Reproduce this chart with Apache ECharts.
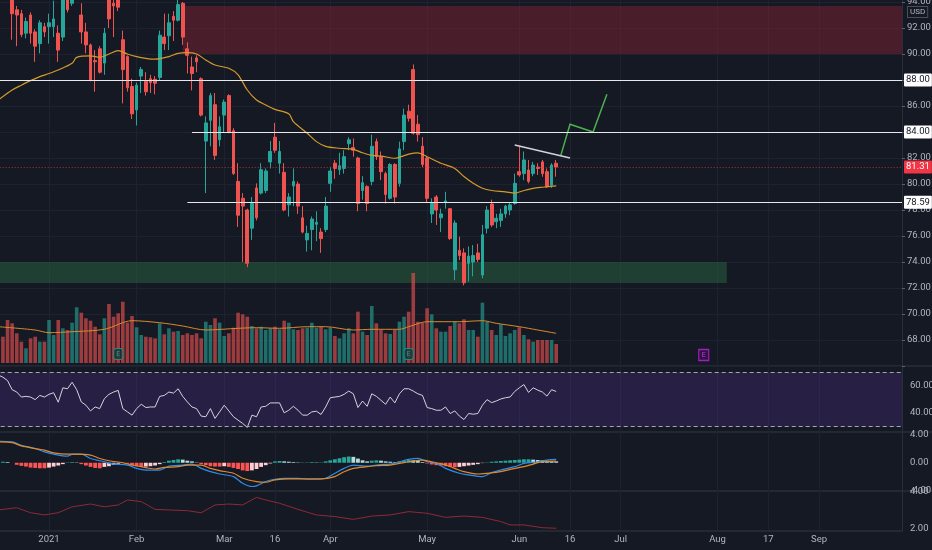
<!DOCTYPE html>
<html><head><meta charset="utf-8">
<script src="https://cdn.jsdelivr.net/npm/echarts/dist/echarts.min.js"></script>
<style>html,body{margin:0;padding:0;background:#151924;}#c{width:932px;height:550px;}</style>
</head><body><div id="c"></div>
<script>
// ---------- time axis ----------
const firstDate = '2020-12-15';
const barCount = 198;
const holidays = ['2020-12-25','2021-01-01','2021-01-18','2021-02-15','2021-04-02','2021-05-31','2021-07-05','2021-09-06'];
function buildTradingDays(start, count, skip){
  const out=[]; const d=new Date(start+'T00:00:00Z');
  while(out.length<count){
    const wd=d.getUTCDay(); const s=d.toISOString().slice(0,10);
    if(wd!==0&&wd!==6&&!skip.includes(s)) out.push(s);
    d.setUTCDate(d.getUTCDate()+1);
  }
  return out;
}
const categories = buildTradingDays(firstDate, barCount, holidays);
const tickDates = ['2020-12-15','2021-01-04','2021-02-01','2021-03-01','2021-03-16','2021-04-01','2021-05-03','2021-06-01','2021-06-16','2021-07-01','2021-08-02','2021-08-17','2021-09-01'];
const tickTexts = ['15','2021','Feb','Mar','16','Apr','May','Jun','16','Jul','Aug','17','Sep'];

// ---------- price (OHLC) ----------
const opens = [null,null,
96.8,96.0,94.6,93.4,93.1,91.6,93.0,91.7,90.8,92.1,
92.1,92.1,91.6,91.3,95.5,93.9,95.5,93.0,91.7,90.7,
89.5,90.4,89.3,94.5,93.9,94.2,91.1,89.8,87.5,85.7,
88.3,87.9,88.1,88.05,88.2,91.3,91.4,92.9,92.6,93.9,
90.4,89.0,89.7,88.1,83.3,84.9,86.1,83.4,85.3,86.8,
84.1,80.2,78.9,78.0,76.6,79.7,79.3,79.5,81.7,83.6,
81.6,80.9,78.4,79.85,80.0,77.4,75.7,76.5,76.9,76.3,
76.5,80.05,81.6,81.1,81.2,83.1,82.8,82.0,79.5,79.8,
80.2,83.26,82.1,80.8,78.9,81.5,80.05,83.26,85.6,88.8,
84.6,82.9,82.0,77.7,79.0,77.4,78.6,78.1,73.4,74.9,
74.7,73.9,74.0,74.7,73.0,76.6,78.46,77.1,77.2,77.7,
78.0,78.5,80.95,80.8,81.08,80.8,81.3,81.7,80.95,79.9,81.6];
const highs = [null,null,
97.0,96.3,95.0,93.7,93.4,92.8,93.2,91.9,92.6,92.4,
93.1,94.1,92.2,95.0,96.0,96.0,96.5,93.9,92.4,90.8,
90.3,90.6,92.0,95.0,94.5,94.5,91.8,89.9,88.1,87.8,
89.0,88.6,88.4,88.3,91.8,93.1,93.1,93.3,94.2,94.0,
90.9,89.8,89.9,88.2,85.2,87.0,87.0,85.2,86.5,86.9,
84.3,81.6,79.3,78.1,79.0,80.05,81.6,81.2,83.3,84.7,
83.3,81.6,79.3,81.2,80.2,78.3,76.8,77.5,77.9,76.6,
79.0,81.3,81.85,82.4,82.6,83.6,83.5,82.1,80.6,79.9,
83.8,83.5,82.5,80.95,81.6,81.6,83.26,85.8,86.1,89.2,
85.3,83.6,82.1,78.9,79.15,78.1,79.4,78.15,77.2,75.95,
75.05,75.2,75.3,75.4,76.85,78.3,78.8,77.7,78.1,78.4,
78.6,80.8,82.9,82.5,81.85,81.7,81.6,81.85,81.2,81.6,81.85];
const lows = [null,null,
95.6,94.3,91.1,90.6,91.3,91.2,90.8,89.4,90.05,91.3,
90.8,91.3,89.4,91.0,93.2,93.7,94.5,90.8,90.05,87.9,
87.1,88.5,88.4,92.0,91.3,93.3,86.2,87.1,85.0,84.5,
87.0,86.8,87.0,86.9,88.0,90.3,90.3,91.0,92.5,90.7,
88.5,87.2,88.6,85.2,79.3,82.9,81.85,82.9,84.0,83.9,
80.7,76.7,74.0,73.6,75.7,77.2,79.2,79.3,81.2,82.4,
80.8,77.9,77.5,78.3,77.7,76.2,74.8,74.9,75.6,74.7,
76.3,79.4,80.4,80.7,80.8,82.6,82.1,77.9,78.8,77.9,
79.9,81.85,80.3,78.5,78.8,78.5,79.8,82.6,84.8,83.8,
83.26,81.3,78.6,77.0,76.85,76.3,78.1,75.7,72.6,74.15,
72.2,72.5,72.9,74.0,72.75,76.2,76.7,76.6,76.7,77.4,
77.6,78.4,80.56,80.3,80.05,80.6,80.7,80.56,79.7,79.7,80.56];
const closes = [null,null,
96.0,94.6,93.1,93.0,91.5,92.5,91.6,90.6,92.4,91.7,
92.4,92.7,90.3,94.6,93.4,95.5,96.0,91.7,90.7,88.0,
89.4,88.6,91.6,92.7,93.7,93.6,88.8,87.4,85.4,87.6,
88.8,87.1,87.8,87.75,91.45,90.8,92.4,92.6,93.8,91.3,
89.9,88.5,89.4,85.3,84.7,86.8,82.2,84.4,86.3,84.0,
80.8,77.6,78.3,73.9,78.5,77.4,81.1,81.0,82.5,82.6,
82.5,78.0,79.0,80.2,78.3,76.3,76.2,77.3,77.05,75.8,
78.3,81.0,81.2,81.4,82.1,83.4,82.6,78.5,80.1,78.5,
82.9,82.1,80.95,79.2,81.5,79.0,82.7,85.3,85.05,83.9,
83.8,81.5,78.9,78.5,78.0,77.7,78.7,75.8,77.0,74.5,
72.4,74.46,74.5,74.2,76.1,78.0,76.85,77.36,77.7,78.3,
78.4,80.05,80.7,81.85,80.2,81.46,81.2,80.8,79.8,81.46,81.31];
// moving average: [barIndex, value]
const priceMA = [[1,86.46],[4,87.23],[6,87.6],[8,87.95],[10,88.26],[12,88.5],[14,88.77],[17,89.28],[18,89.74],[21,89.85],[23,89.74],[25,90.0],[27,90.26],[29,90.0],[31,89.8],[33,89.67],[35,89.6],[38,89.8],[40,90.05],[42,90.1],[44,90.0],[46,89.54],[48,89.15],[51,88.9],[53,88.4],[55,87.23],[57,86.46],[59,86.08],[61,85.74],[64,85.4],[65,84.8],[68,83.9],[70,83.26],[72,82.9],[75,82.75],[78,82.67],[80,82.4],[82,82.2],[84,82.15],[87,81.98],[90,82.3],[92,82.4],[94,82.1],[97,81.6],[100,81.2],[102,80.57],[104,80.05],[106,79.67],[108,79.5],[111,79.4],[113,79.3],[115,79.5],[117,79.67],[119,79.75],[122,79.85]];

// ---------- volume (millions) ----------
const volumes = [null,null,
2.63,4.3,3.97,2.97,2.13,1.47,2.47,2.63,2.13,2.13,
4.3,2.8,4.3,3.47,3.3,4.03,5.57,5.03,4.47,4.23,
3.63,2.87,4.47,5.9,4.63,4.97,6.13,4.03,4.7,3.57,
2.8,2.63,2.57,2.47,3.97,2.87,3.47,3.13,3.2,2.8,
2.97,2.8,2.97,2.47,4.13,3.8,4.47,4.03,2.7,2.97,
3.53,5.03,4.87,4.63,3.7,3.47,3.63,3.3,3.47,3.63,
3.37,4.23,4.03,3.37,3.3,3.47,3.53,4.03,3.53,3.63,
3.37,3.53,2.7,2.47,2.97,3.47,2.97,5.13,3.13,2.8,
5.7,3.97,3.3,2.97,2.9,3.3,4.13,4.63,5.13,9.0,
4.13,4.03,5.47,4.87,3.47,3.13,3.13,3.7,4.13,3.97,
4.37,3.3,3.3,2.63,6.03,4.13,3.3,2.8,3.87,2.7,
2.97,3.3,3.57,2.8,2.37,2.13,2.3,2.3,2.3,2.3,1.9];
const volumeMA = [[1,3.63],[9,3.3],[12,3.03],[17,3.13],[24,3.37],[30,4.23],[36,4.03],[41,3.7],[46,3.3],[53,3.47],[57,3.53],[62,3.47],[68,3.63],[72,3.63],[78,3.3],[82,3.37],[88,3.37],[90,3.63],[94,4.13],[101,4.13],[106,4.23],[109,3.97],[114,3.63],[118,3.3],[122,2.97]];
const earningsDates = ['2021-01-26','2021-04-27'];
const upcomingEarnings = ['2021-07-28'];

// ---------- RSI ----------
const rsi = [null,68,
66.4,63.9,57.2,55.5,51.8,52.3,51.8,49.9,53.0,51.8,
53.8,55.0,48.0,58.6,57.9,62.7,57.2,48.2,45.8,41.6,
44.5,43.3,50.6,53.8,55.5,56.7,43.3,40.9,38.5,43.3,
46.5,44.1,44.5,44.5,52.3,53.0,55.5,54.7,57.9,52.3,
48.2,44.5,43.3,37.8,37.3,43.3,36.1,40.9,45.8,41.6,
37.3,34.8,32.4,29.5,38.5,37.3,44.5,45.0,47.5,47.5,
47.5,40.2,42.1,45.0,42.1,38.5,38.5,40.9,41.4,39.0,
44.5,51.3,51.8,52.3,53.8,56.2,54.2,44.1,48.9,45.0,
54.2,52.3,49.4,46.5,51.8,47.5,54.2,57.9,57.9,56.2,
54.2,53.0,44.1,43.3,42.1,42.1,44.5,39.7,41.6,37.8,
35.3,39.7,39.2,39.7,45.8,49.9,47.7,48.9,50.4,51.3,
51.8,55.9,58.6,61.0,55.2,58.6,56.9,55.5,52.5,57.2,55.9];

// ---------- MACD ----------
const macdHist = [null,null,
0.15,0.1,0,-0.3,-0.45,-0.55,-0.7,-0.75,-0.8,-0.8,
-0.7,-0.55,-0.4,-0.2,0.05,0.1,0.05,-0.2,-0.4,-0.6,
-0.75,-0.8,-0.6,-0.5,-0.3,-0.15,0.05,-0.15,-0.4,-0.5,
-0.6,-0.55,-0.5,-0.4,-0.2,0.1,0.3,0.4,0.5,0.45,
0.3,0.2,0.05,-0.2,-0.35,-0.5,-0.55,-0.55,-0.5,-0.6,
-0.75,-0.9,-1.1,-1.2,-1.1,-0.9,-0.6,-0.35,-0.1,0.2,
0.25,0.2,0.15,0.1,0.05,0.05,0.05,0.1,0.05,0.05,
0.2,0.35,0.5,0.65,0.8,0.9,0.85,0.6,0.35,0.2,
0.3,0.35,0.3,0.2,0.15,0.1,0.2,0.3,0.4,0.35,
0.25,0.1,-0.1,-0.25,-0.35,-0.4,-0.5,-0.6,-0.65,-0.6,
-0.5,-0.4,-0.3,-0.2,-0.05,0.05,0.15,0.2,0.25,0.3,
0.35,0.4,0.45,0.5,0.5,0.45,0.4,0.35,0.3,0.25,0.2];
const macdLine = [[1,3.1],[4,3.0],[6,2.52],[9,2.05],[11,1.57],[13,1.24],[16,0.95],[17,1.2],[19,1.24],[21,0.62],[24,0.14],[26,-0.19],[29,-0.33],[31,-0.81],[33,-1.05],[36,-1.05],[38,-0.48],[41,-0.33],[43,-0.19],[45,-0.81],[47,-1.29],[49,-1.62],[52,-2.0],[54,-2.95],[56,-3.43],[57,-3.33],[59,-2.71],[61,-2.38],[63,-2.24],[66,-2.24],[68,-2.38],[70,-2.38],[72,-2.24],[74,-1.52],[76,-0.81],[78,-0.33],[81,-0.48],[83,-0.33],[86,-0.19],[88,0.14],[90,0.48],[92,0.62],[94,0.14],[96,-0.1],[98,-0.81],[101,-1.52],[103,-1.76],[106,-2.0],[108,-1.43],[110,-1.05],[113,-0.57],[115,-0.1],[118,0.14],[120,0.38],[122,0.48]];
const signalLine = [[1,3.0],[4,2.9],[6,2.43],[9,2.05],[11,1.81],[13,1.43],[16,1.24],[18,1.24],[21,1.1],[23,0.62],[25,0.29],[28,0],[30,-0.33],[33,-0.71],[35,-0.9],[37,-0.67],[40,-0.57],[42,-0.33],[45,-0.33],[47,-0.81],[49,-1.14],[52,-1.52],[54,-2.24],[57,-2.71],[59,-2.81],[61,-2.48],[64,-2.33],[66,-2.33],[69,-2.33],[71,-2.33],[74,-2.0],[76,-1.29],[78,-0.81],[81,-0.57],[83,-0.43],[86,-0.33],[88,-0.1],[90,0.14],[93,0.38],[95,0.14],[98,-0.33],[100,-0.81],[102,-1.29],[105,-1.62],[107,-1.52],[110,-1.29],[112,-0.95],[115,-0.57],[117,-0.19],[119,0.14],[122,0.24]];

// ---------- lower indicator (ATR-like) ----------
const atr = [[1,3.03],[5,3.15],[8,2.88],[11,2.76],[14,2.88],[17,3.2],[21,3.35],[24,3.2],[27,3.3],[29,3.57],[32,3.48],[35,3.06],[38,3.03],[42,2.99],[45,2.88],[48,3.3],[51,3.35],[54,3.3],[57,3.71],[59,3.57],[62,3.39],[66,3.06],[70,2.76],[74,2.67],[78,2.52],[82,2.7],[86,2.76],[90,2.94],[94,2.85],[98,2.63],[102,2.7],[106,2.63],[110,2.4],[112,2.22],[115,2.22],[119,2.07],[122,2.04]];

// ---------- drawings ----------
const resistanceHigh = 88.00;
const resistanceMid = 84.00, resistanceMidStart = 43;
const supportLevel = 78.59, supportStart = 42;
const lastPrice = 81.31;
const supplyZone = {start:41, low:90.0, high:93.69};
const demandZone = {start:0, end:159, low:72.38, high:74.0};
const trendLine = [[113,83.0],[125,82.0]];
const forecastPath = [[123,82.2],[125,84.6],[130,84.0],[133,86.9]];

// ---------- build ----------
const UP='#26a69a', DN='#ef5350', BG='#151924', TXT='#b2b5be', GRIDC='#1d2130', SEP='#2a2e39';
const FONT='Roboto, "Noto Sans", sans-serif';
const L=-6.3, R=30;
const candleData = opens.map((o,i)=> o==null?'-':[o,closes[i],lows[i],highs[i]]);
const volData = volumes.map((v,i)=> v==null?'-':{value:v,itemStyle:{color: closes[i]>=opens[i]?'rgba(38,166,154,0.6)':'rgba(239,83,80,0.62)'}});
const histData = macdHist.map((v,i)=>{
  if(v==null) return '-';
  const p = i>0?macdHist[i-1]:null;
  let c;
  if(v>=0) c = (p!=null && v<p) ? '#b2dfdb' : '#26a69a';
  else c = (p!=null && v>p) ? '#ffcdd2' : '#ff5252';
  return {value:v,itemStyle:{color:c}};
});
const E_LEVEL = 0.9;
function boxLabel(text,bg,fg){return {show:true,position:'end',formatter:text,backgroundColor:bg,color:fg,padding:[2,2,1,2],fontSize:9.5,fontFamily:FONT,distance:2,borderRadius:1};}
const hideX = (g)=>({type:'category',gridIndex:g,data:categories,boundaryGap:false,show:false});
const G = (o)=>Object.assign({left:L,right:R,containLabel:false,outerBoundsMode:'none'},o);

const option = {
  backgroundColor: BG,
  animation:false,
  grid:[
    G({top:2,height:364}),
    G({top:263,height:100}),
    G({top:358.7,height:81.6}),
    G({top:407.3,height:110.9}),
    G({top:455,height:111}),
    G({top:0,height:531})
  ],
  xAxis:[hideX(0),hideX(1),hideX(2),hideX(3),hideX(4),
    {type:'category',gridIndex:5,data:categories,boundaryGap:false,
     axisLine:{show:true,lineStyle:{color:SEP,width:1.5}},axisTick:{show:false},
     axisLabel:{color:TXT,fontSize:9.5,fontFamily:FONT,margin:4,
       interval:(idx,val)=>tickDates.includes(val),
       formatter:(val)=>{const k=tickDates.indexOf(val);return k<0?'':tickTexts[k];}},
     splitLine:{show:true,interval:(idx,val)=>tickDates.includes(val),lineStyle:{color:GRIDC,width:1}}}
  ],
  yAxis:[
    {type:'value',gridIndex:0,position:'right',min:66,max:94,interval:2,
     axisLine:{show:false},axisTick:{show:true,length:3,lineStyle:{color:'#5d606b'}},
     axisLabel:{color:TXT,fontSize:9.5,fontFamily:FONT,margin:5,formatter:v=>v===66?'':v.toFixed(2)},
     splitLine:{show:true,lineStyle:{color:GRIDC}}},
    {type:'value',gridIndex:1,min:0,max:10,show:false},
    {type:'value',gridIndex:2,position:'right',min:20,max:80,interval:20,
     axisLine:{show:false},axisTick:{show:false},
     axisLabel:{color:TXT,fontSize:9.5,fontFamily:FONT,margin:8,formatter:v=>(v===60||v===40)?v.toFixed(2):''},
     splitLine:{show:false}},
    {type:'value',gridIndex:3,position:'right',min:-8,max:8,interval:4,
     axisLine:{show:false},axisTick:{show:false},
     axisLabel:{color:TXT,fontSize:9.5,fontFamily:FONT,margin:8,formatter:v=>(Math.abs(v)<=4)?v.toFixed(2):''},
     splitLine:{show:false}},
    {type:'value',gridIndex:4,position:'right',min:0,max:6,interval:2,
     axisLine:{show:false},axisTick:{show:false},
     axisLabel:{color:TXT,fontSize:9.5,fontFamily:FONT,margin:8,formatter:v=>(v===2||v===4)?v.toFixed(2):''},
     splitLine:{show:false}},
    {type:'value',gridIndex:5,position:'right',min:0,max:1,
     axisLine:{show:true,lineStyle:{color:SEP}},axisTick:{show:false},axisLabel:{show:false},splitLine:{show:false}}
  ],
  graphic:[
    {type:'line',shape:{x1:0,y1:366,x2:932,y2:366},style:{stroke:SEP,lineWidth:1.5},silent:true},
    {type:'line',shape:{x1:0,y1:432,x2:932,y2:432},style:{stroke:SEP,lineWidth:1.5},silent:true},
    {type:'line',shape:{x1:0,y1:491,x2:932,y2:491},style:{stroke:SEP,lineWidth:1.5},silent:true},
    {type:'text',left:907,top:6,z:10,style:{text:'USD',fill:TXT,font:'8px '+FONT,backgroundColor:BG,borderColor:'#4a4e59',borderWidth:1,padding:[1,2]}}
  ],
  series:[
    {type:'candlestick',xAxisIndex:0,yAxisIndex:0,data:candleData,barWidth:3.2,
     itemStyle:{color:UP,color0:DN,borderColor:UP,borderColor0:DN,borderWidth:1},
     markArea:{silent:true,data:[
       [{coord:[supplyZone.start,supplyZone.low],itemStyle:{color:'rgba(178,40,51,0.33)'}},{coord:[barCount-1,supplyZone.high]}],
       [{coord:[demandZone.start,demandZone.low],itemStyle:{color:'rgba(46,125,70,0.38)'}},{coord:[demandZone.end,demandZone.high]}]
     ]},
     markLine:{silent:true,symbol:['none','none'],data:[
       {yAxis:lastPrice,lineStyle:{color:'rgba(242,54,69,0.7)',width:1,type:[1,2]},label:boxLabel(lastPrice.toFixed(2),'#f23645','#ffffff')},
       {yAxis:resistanceHigh,lineStyle:{color:'#e6e8ee',width:1.2,type:'solid'},label:boxLabel(resistanceHigh.toFixed(2),'#ffffff','#131722')},
       [{coord:[resistanceMidStart,resistanceMid],lineStyle:{color:'#e6e8ee',width:1.2,type:'solid'},label:boxLabel(resistanceMid.toFixed(2),'#ffffff','#131722')},{coord:[barCount-1,resistanceMid]}],
       [{coord:[supportStart,supportLevel],lineStyle:{color:'#e6e8ee',width:1.2,type:'solid'},label:boxLabel(supportLevel.toFixed(2),'#ffffff','#131722')},{coord:[barCount-1,supportLevel]}]
     ]}},
    {type:'line',xAxisIndex:0,yAxisIndex:0,data:priceMA,smooth:0.3,showSymbol:false,symbol:'none',lineStyle:{color:'#d39a2c',width:1.2},z:3},
    {type:'line',xAxisIndex:0,yAxisIndex:0,data:trendLine,showSymbol:false,symbol:'none',lineStyle:{color:'#d1d4dc',width:1.4},z:4},
    {type:'lines',coordinateSystem:'cartesian2d',xAxisIndex:0,yAxisIndex:0,polyline:true,symbol:['none','arrow'],symbolSize:7,
     lineStyle:{color:'#4caf50',width:1.5,opacity:1},data:[{coords:forecastPath}],z:4},
    {type:'bar',xAxisIndex:1,yAxisIndex:1,data:volData,barWidth:3.6,z:1},
    {type:'line',xAxisIndex:1,yAxisIndex:1,data:volumeMA,smooth:0.3,showSymbol:false,symbol:'none',lineStyle:{color:'#d98a2c',width:1},z:3},
    {type:'scatter',xAxisIndex:1,yAxisIndex:1,symbol:'roundRect',symbolSize:[9,11],
     data:earningsDates.map(d=>[categories.indexOf(d),E_LEVEL]),
     itemStyle:{color:'#173a3c',borderColor:'#1f9c8c',borderWidth:1},
     label:{show:true,formatter:'E',color:'#2bb3a0',fontSize:7,position:'inside',fontFamily:FONT},z:5},
    {type:'scatter',xAxisIndex:1,yAxisIndex:1,symbol:'rect',symbolSize:[10,11],
     data:upcomingEarnings.map(d=>[categories.indexOf(d),E_LEVEL-0.1]),
     itemStyle:{color:'#3b1050',borderColor:'#c21fe0',borderWidth:1.2},
     label:{show:true,formatter:'E',color:'#d84cf2',fontSize:7,position:'inside',fontFamily:FONT},z:5},
    {type:'line',xAxisIndex:2,yAxisIndex:2,data:rsi,showSymbol:false,symbol:'none',lineStyle:{color:'#d1d4dc',width:1},
     markArea:{silent:true,data:[[{yAxis:30,itemStyle:{color:'rgba(120,60,200,0.2)'}},{yAxis:70}]]},
     markLine:{silent:true,symbol:['none','none'],label:{show:false},lineStyle:{color:'#a3a6af',width:1,type:[4,3]},data:[{yAxis:70},{yAxis:30}]}},
    {type:'bar',xAxisIndex:3,yAxisIndex:3,data:histData,barWidth:3.8},
    {type:'line',xAxisIndex:3,yAxisIndex:3,data:macdLine,smooth:0.3,showSymbol:false,symbol:'none',lineStyle:{color:'#2d8ceb',width:1.2}},
    {type:'line',xAxisIndex:3,yAxisIndex:3,data:signalLine,smooth:0.3,showSymbol:false,symbol:'none',lineStyle:{color:'#e0892c',width:1.2}},
    {type:'line',xAxisIndex:4,yAxisIndex:4,data:atr,showSymbol:false,symbol:'none',lineStyle:{color:'#8f2a36',width:1}}
  ]
};
const chart = echarts.init(document.getElementById('c'),null,{renderer:'canvas'});
chart.setOption(option);
</script></body></html>
